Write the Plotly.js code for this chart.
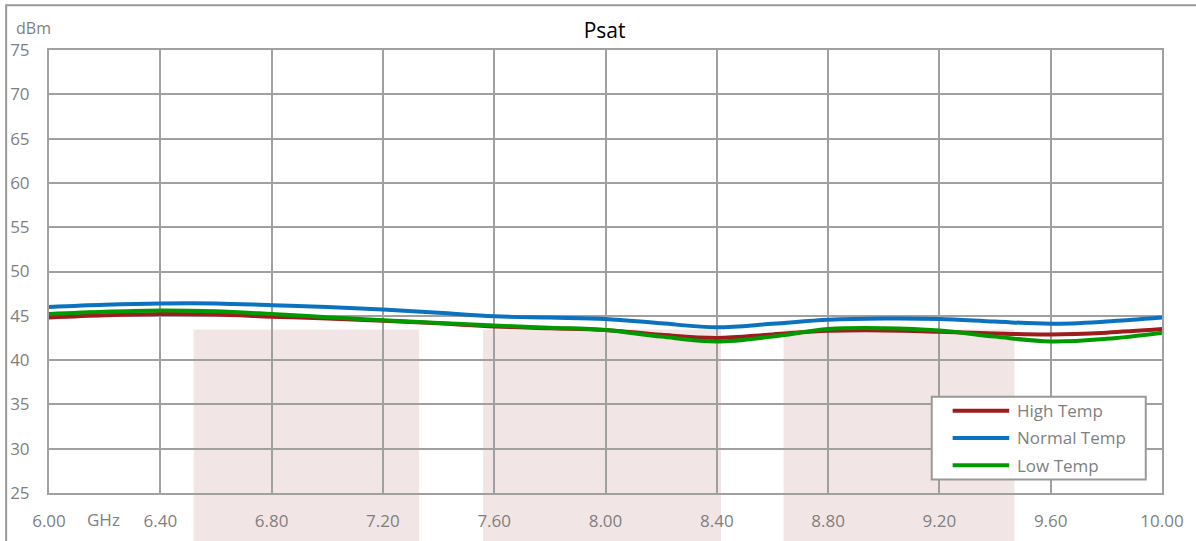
<!DOCTYPE html>
<html>
<head>
<meta charset="utf-8">
<script src="https://cdn.plot.ly/plotly-3.0.1.min.js"></script>
<style>html,body{margin:0;padding:0;background:#fff;}#chart{width:1196px;height:541px;}</style>
</head>
<body>
<div id="chart"></div>
<script>
// Frequency (GHz)
var freq = [6.0, 6.2, 6.4, 6.6, 6.8, 7.0, 7.2, 7.4, 7.6, 7.8, 8.0, 8.2, 8.4, 8.6, 8.8, 9.0, 9.2, 9.4, 9.6, 9.8, 10.0];
// Psat (dBm)
var highTemp   = [44.8, 45.05, 45.2, 45.15, 44.9, 44.7, 44.45, 44.15, 43.8, 43.6, 43.4, 42.85, 42.5, 42.9, 43.3, 43.35, 43.2, 43.0, 42.9, 43.1, 43.5];
var normalTemp = [46.0, 46.25, 46.4, 46.4, 46.2, 46.0, 45.7, 45.35, 44.95, 44.8, 44.65, 44.15, 43.7, 44.1, 44.55, 44.7, 44.65, 44.35, 44.1, 44.35, 44.8];
var lowTemp    = [45.2, 45.45, 45.6, 45.5, 45.2, 44.85, 44.5, 44.2, 43.9, 43.65, 43.4, 42.65, 42.1, 42.65, 43.5, 43.6, 43.35, 42.65, 42.1, 42.4, 43.1];
var seriesNames  = ['High Temp', 'Normal Temp', 'Low Temp'];
var seriesColors = ['#9e1b1e', '#0b72c0', '#009a00'];
// Shaded bands (GHz)
var bandStart = [6.52, 7.56, 8.64];
var bandEnd   = [7.33, 8.415, 9.47];
var xTicks = [6.0, 6.4, 6.8, 7.2, 7.6, 8.0, 8.4, 8.8, 9.2, 9.6, 10.0];
var yTicks = [25, 30, 35, 40, 45, 50, 55, 60, 65, 70, 75];

var FONT = 'Open Sans, Noto Sans, sans-serif';
var GREY = '#7f7f7f';
var GRID = '#a0a0a0';

var seriesValues = [highTemp, normalTemp, lowTemp];
var data = seriesValues.map(function (vals, i) {
  return {x: freq, y: vals, name: seriesNames[i], type: 'scatter', mode: 'lines',
          showlegend: false,
          line: {color: seriesColors[i], width: 4, shape: 'spline', smoothing: 1}};
});

var shapes = bandStart.map(function (s, i) {
  return {type: 'rect', layer: 'below', xref: 'x', yref: 'paper',
          x0: s, x1: bandEnd[i], y0: -0.2, y1: 0.369,
          fillcolor: '#f2e5e5', line: {width: 0}};
});
// outer frame
shapes.push({type: 'rect', layer: 'below', xref: 'paper', yref: 'paper',
             x0: -0.0385, x1: 1.2, y0: -0.3, y1: 1.101,
             fillcolor: 'rgba(0,0,0,0)', line: {color: '#999999', width: 2}});

var annotations = [
  {text: 'dBm', xref: 'paper', yref: 'paper', x: -0.031, y: 1.05,
   xanchor: 'left', yanchor: 'middle', showarrow: false,
   font: {family: FONT, size: 16, color: GREY}},
  {text: 'GHz', xref: 'paper', yref: 'paper', x: 0.0494, y: -0.059,
   xanchor: 'center', yanchor: 'middle', showarrow: false,
   font: {family: FONT, size: 17, color: GREY}}
];

// legend box (drawn as shapes + text)
var LG = {x0: 0.7931, x1: 0.9854, y0: 0.0303, y1: 0.2171,
          lx0: 0.8119, lx1: 0.8627, tx: 0.8676, rows: [0.1854, 0.1244, 0.0627]};
shapes.push({type: 'rect', xref: 'paper', yref: 'paper', layer: 'above',
             x0: LG.x0, x1: LG.x1, y0: LG.y0, y1: LG.y1,
             fillcolor: '#ffffff', line: {color: '#999999', width: 2}});
seriesNames.forEach(function (nm, i) {
  shapes.push({type: 'line', xref: 'paper', yref: 'paper', layer: 'above',
               x0: LG.lx0, x1: LG.lx1, y0: LG.rows[i], y1: LG.rows[i],
               line: {color: seriesColors[i], width: 4}});
  annotations.push({text: nm, xref: 'paper', yref: 'paper', x: LG.tx, y: LG.rows[i],
                    xanchor: 'left', yanchor: 'middle', showarrow: false,
                    font: {family: FONT, size: 17, color: GREY}});
});

var layout = {
  width: 1196, height: 541,
  margin: {l: 49, r: 34, t: 50, b: 48, pad: 0},
  paper_bgcolor: '#ffffff', plot_bgcolor: '#ffffff',
  font: {family: FONT, color: GREY, size: 17},
  title: {text: 'Psat', font: {family: FONT, size: 21, color: '#000000'},
          x: 0.5055, xanchor: 'center', y: 0.943, yanchor: 'middle'},
  showlegend: false,
  xaxis: {range: [6, 10], tickvals: xTicks, tickformat: '.2f',
          showgrid: true, gridcolor: GRID, gridwidth: 2,
          showline: true, linecolor: GRID, linewidth: 2, mirror: true,
          zeroline: false, ticks: 'outside', ticklen: 12, tickcolor: 'rgba(0,0,0,0)',
          tickfont: {family: FONT, size: 17, color: GREY}, fixedrange: true},
  yaxis: {range: [25, 75], tickvals: yTicks,
          showgrid: true, gridcolor: GRID, gridwidth: 2,
          showline: true, linecolor: GRID, linewidth: 2, mirror: true,
          zeroline: false, ticks: 'outside', ticklen: 14, tickcolor: 'rgba(0,0,0,0)',
          tickfont: {family: FONT, size: 17, color: GREY}, fixedrange: true},
  shapes: shapes,
  annotations: annotations
};
Plotly.newPlot('chart', data, layout, {displayModeBar: false, staticPlot: true});
</script>
</body>
</html>
